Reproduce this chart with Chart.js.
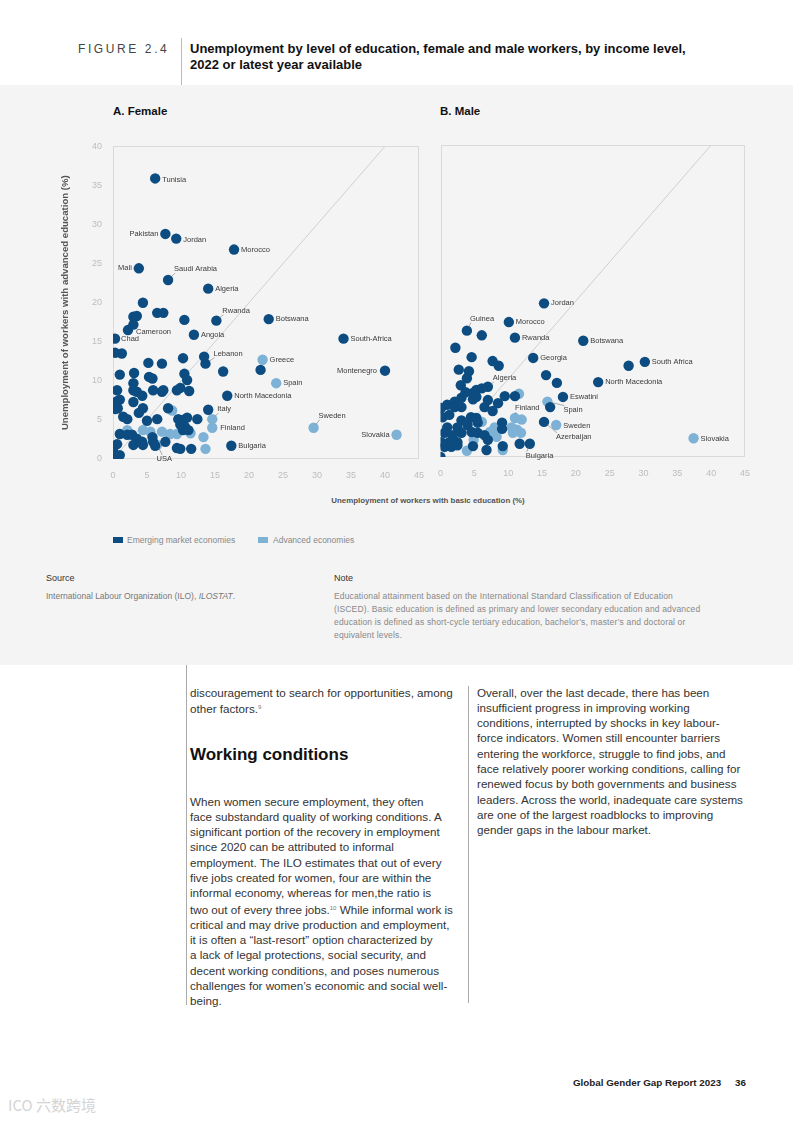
<!DOCTYPE html>
<html>
<head>
<meta charset="utf-8">
<title>Figure 2.4</title>
<script src="https://cdn.jsdelivr.net/npm/chart.js@4.4.1/dist/chart.umd.min.js"></script>
<style>
  body { margin: 0; width: 793px; height: 1122px; position: relative; overflow: hidden;
         background: #fff; font-family: 'Liberation Sans', Arial, sans-serif; color: #333; }
  .abs { position: absolute; white-space: nowrap; }
  #panel { position: absolute; left: 0; top: 85px; width: 793px; height: 580px; background: #f4f4f4; }
  .rule { position: absolute; width: 1px; background: #aaa; }
  .swatch { position: absolute; width: 10px; height: 6px; }
  .body-text { font-size: 11.65px; line-height: 15.3px; color: #333; }
  sup { font-size: 6px; vertical-align: 4px; color: #777; }
</style>
</head>
<body>

<div class="abs" style="left:78px; top:41px; font-size:12px; line-height:16px; letter-spacing:2.6px; color:#444;">FIGURE 2.4</div>
<div class="rule" style="left:181px; top:38px; height:47px; background:#bbb;"></div>
<div class="abs" style="left:190px; top:41px; font-size:13px; line-height:16px; font-weight:bold; color:#111;">Unemployment by level of education, female and male workers, by income level,<br>2022 or latest year available</div>

<div id="panel"></div>

<div class="abs" style="left:113px; top:103px; font-size:11.5px; line-height:16px; font-weight:bold; color:#111;">A. Female</div>
<div class="abs" style="left:440px; top:103px; font-size:11.5px; line-height:16px; font-weight:bold; color:#111;">B. Male</div>

<div class="abs" style="left:40px; top:130px; width:395px; height:355px;"><canvas id="femaleChart" width="395" height="355"></canvas></div>
<div class="abs" style="left:427px; top:130px; width:334px; height:355px;"><canvas id="maleChart" width="334" height="355"></canvas></div>

<div class="abs" style="left:228px; top:496px; width:400px; text-align:center; font-size:7.9px; line-height:10px; font-weight:bold; color:#555;">Unemployment of workers with basic education (%)</div>

<!-- legend -->
<div class="swatch" style="left:113px; top:537px; background:#0c4c80;"></div>
<div class="abs" style="left:127px; top:535px; font-size:8.5px; line-height:10px; color:#888;">Emerging market economies</div>
<div class="swatch" style="left:258px; top:537px; background:#7db2d6;"></div>
<div class="abs" style="left:273px; top:535px; font-size:8.5px; line-height:10px; color:#888;">Advanced economies</div>

<!-- source and note -->
<div class="abs" style="left:46px; top:572px; font-size:9px; line-height:12px; color:#333;">Source</div>
<div class="abs" style="left:46px; top:590px; font-size:8.5px; line-height:12px; color:#777;">International Labour Organization (ILO), <i>ILOSTAT</i>.</div>
<div class="abs" style="left:334px; top:572px; font-size:9px; line-height:12px; color:#333;">Note</div>
<div class="abs" style="left:334px; top:589.5px; font-size:8.5px; line-height:13.3px; letter-spacing:0.15px; color:#888;">Educational attainment based on the International Standard Classification of Education<br>(ISCED). Basic education is defined as primary and lower secondary education and advanced<br>education is defined as short-cycle tertiary education, bachelor’s, master’s and doctoral or<br>equivalent levels.</div>

<!-- body text -->
<div class="rule" style="left:186px; top:665px; height:340px;"></div>
<div class="rule" style="left:468px; top:686px; height:317px;"></div>

<div class="abs body-text" style="left:190px; top:684.5px;">discouragement to search for opportunities, among<br>other factors.<sup>9</sup></div>
<div class="abs" style="left:190px; top:744px; font-size:17px; line-height:22px; font-weight:bold; color:#111;">Working conditions</div>
<div class="abs body-text" style="left:190px; top:793.5px;">When women secure employment, they often<br>face substandard quality of working conditions. A<br>significant portion of the recovery in employment<br>since 2020 can be attributed to informal<br>employment. The ILO estimates that out of every<br>five jobs created for women, four are within the<br>informal economy, whereas for men,the ratio is<br>two out of every three jobs.<sup>10</sup> While informal work is<br>critical and may drive production and employment,<br>it is often a “last-resort” option characterized by<br>a lack of legal protections, social security, and<br>decent working conditions, and poses numerous<br>challenges for women’s economic and social well-<br>being.</div>
<div class="abs body-text" style="left:477px; top:684.5px;">Overall, over the last decade, there has been<br>insufficient progress in improving working<br>conditions, interrupted by shocks in key labour-<br>force indicators. Women still encounter barriers<br>entering the workforce, struggle to find jobs, and<br>face relatively poorer working conditions, calling for<br>renewed focus by both governments and business<br>leaders. Across the world, inadequate care systems<br>are one of the largest roadblocks to improving<br>gender gaps in the labour market.</div>

<!-- footer -->
<div class="abs" style="left:573px; top:1077px; font-size:9.8px; line-height:12px; font-weight:bold; color:#222;">Global Gender Gap Report 2023</div>
<div class="abs" style="left:735px; top:1077px; font-size:9.8px; line-height:12px; font-weight:bold; color:#222;">36</div>
<div class="abs" style="left:8px; top:1095px; font-family:'Noto Sans CJK SC'; font-size:15px; line-height:20px; color:#d4d4d4;">ICO 六数跨境</div>

<script>
// Axis ticks
const xTickValues = [0, 5, 10, 15, 20, 25, 30, 35, 40, 45];
const yTickValues = [0, 5, 10, 15, 20, 25, 30, 35, 40];
const parityLine = [0, 40];  // y = x reference line

// A. Female - emerging market economies
const femaleEmergingX = [6.2, 7.7, 9.3, 17.8, 3.8, 8.1, 14.0, 15.2, 22.9, 2.2, 0.3, 11.9, 13.6, 16.8, 33.9, 40.0, 17.4, 21.7,
  4.4, 6.5, 7.4, 3.0, 3.5, 3.0, 10.5, 0.3, 1.3, 5.2, 7.2, 10.3, 13.4, 16.2, 1.0, 3.1, 5.3, 5.8, 10.5, 10.9, 3.0, 0.6,
  3.0, 3.5, 4.3, 5.9, 7.2, 7.4, 9.4, 9.9, 11.2, 0.6, 1.0, 0.3, 0.7, 3.0, 4.4, 3.8, 8.1, 14.0, 1.5, 2.1, 5.0, 6.5, 9.6,
  10.3, 10.9, 12.4, 9.9, 10.6, 11.1, 10.3, 1.0, 2.1, 2.8, 3.5, 4.3, 5.8, 5.9, 6.2, 7.7, 9.4, 9.9, 11.5, 0.6, 0.0, 0.0,
  1.0, 3.0, 4.4];
const femaleEmergingY = [35.9, 28.8, 28.2, 26.8, 24.4, 22.9, 21.8, 17.7, 17.9, 16.5, 15.4, 15.9, 12.2, 8.1, 15.4, 11.3, 1.7, 11.4,
  20.0, 18.7, 18.7, 18.2, 18.3, 17.2, 17.8, 13.6, 13.5, 12.3, 12.2, 12.9, 13.1, 11.2, 10.8, 11.0, 10.5, 10.3, 10.9, 10.1, 9.7, 8.8,
  8.8, 8.6, 8.1, 8.8, 8.6, 8.8, 8.8, 9.1, 8.7, 7.4, 7.6, 6.4, 6.5, 7.3, 6.5, 5.9, 6.5, 6.3, 5.4, 5.1, 4.9, 5.1, 5.1,
  5.0, 5.3, 5.1, 4.4, 4.1, 3.7, 3.7, 3.2, 3.1, 3.1, 2.6, 2.2, 2.8, 2.2, 1.7, 2.2, 1.4, 1.3, 1.3, 1.9, 1.2, 0.5,
  0.5, 1.8, 1.8];
const femaleEmergingNames = ['Tunisia', 'Pakistan', 'Jordan', 'Morocco', 'Mali', 'Saudi Arabia', 'Algeria', 'Rwanda', 'Botswana',
  'Cameroon', 'Chad', 'Angola', 'Lebanon', 'North Macedonia', 'South-Africa', 'Montenegro', 'Bulgaria'];

// A. Female - advanced economies
const femaleAdvancedX = [22.0, 24.0, 14.6, 14.6, 29.5, 41.7, 6.5, 8.7, 4.4, 5.5, 7.2, 8.4, 9.4, 11.4, 13.3, 13.6, 2.1];
const femaleAdvancedY = [12.7, 9.7, 5.1, 4.0, 4.0, 3.1, 1.8, 6.2, 3.7, 3.5, 3.5, 3.2, 3.2, 3.3, 2.8, 1.3, 3.7];
const femaleAdvancedNames = ['Greece', 'Spain', 'Italy', 'Finland', 'Sweden', 'Slovakia', 'USA'];

// B. Male - emerging market economies
const maleEmergingX = [15.3, 3.9, 10.1, 11.0, 21.1, 13.7, 30.2, 23.3, 7.0, 18.1, 15.3, 13.2,
  6.1, 2.2, 4.6, 7.7, 8.6, 27.8, 2.7, 4.2, 3.9, 15.6, 17.2, 3.0, 6.1, 5.3, 4.8, 9.5, 11.0, 16.2, 11.7, 9.2, 6.8, 4.8,
  0.0, 5.3, 4.8, 7.0, 8.5, 6.5, 7.7, 0.1, 1.0, 2.1, 3.1, 2.1, 3.1, 0.3, 1.3, 3.1, 4.5, 5.3, 5.5, 4.0, 2.5, 1.0, 0.6,
  1.8, 3.1, 4.6, 5.5, 6.5, 7.0, 0.1, 1.3, 2.5, 0.6, 1.6, 2.5, 9.1, 9.1, 3.7];
const maleEmergingY = [19.7, 16.2, 17.3, 15.3, 14.9, 12.7, 12.2, 9.6, 9.0, 7.7, 4.5, 1.7,
  15.6, 14.0, 12.8, 12.3, 11.7, 11.7, 11.2, 11.0, 10.1, 10.5, 9.5, 9.2, 8.8, 8.6, 8.2, 7.8, 7.8, 6.4, 1.7, 1.4, 0.9, 1.4,
  0.0, 7.7, 7.4, 7.3, 6.9, 6.4, 5.9, 6.3, 6.7, 7.1, 7.6, 6.4, 6.4, 5.1, 5.4, 4.7, 5.1, 5.0, 4.4, 4.1, 3.8, 3.8, 3.1,
  2.8, 3.1, 3.2, 3.1, 2.8, 2.2, 1.9, 1.9, 1.9, 1.3, 1.3, 1.5, 4.4, 3.6, 8.3];
const maleEmergingNames = ['Jordan', 'Guinea', 'Morocco', 'Rwanda', 'Botswana', 'Georgia', 'South Africa', 'North Macedonia',
  'Algeria', 'Eswatini', 'Azerbaijan', 'Bulgaria'];

// B. Male - advanced economies
const maleAdvancedX = [15.8, 11.0, 17.1, 37.4, 11.6, 12.0, 10.5, 11.3, 11.9, 10.7, 8.0, 7.3, 8.3, 6.1, 9.2, 3.9, 4.9];
const maleAdvancedY = [7.1, 5.0, 4.1, 2.4, 8.1, 4.8, 3.8, 3.5, 3.1, 3.1, 3.8, 3.2, 2.6, 4.5, 0.9, 0.8, 2.2];
const maleAdvancedNames = ['Spain', 'Finland', 'Sweden', 'Slovakia'];

// Where each country label sits relative to its dot: [dx, dy, align, leader line]
const femaleLabelPlacement = {
    'Tunisia': [7, 1, 'left'], 'Pakistan': [-7, 0, 'right'], 'Jordan': [7, 1, 'left'],
    'Morocco': [7, 0, 'left'], 'Mali': [-7, 0, 'right'], 'Saudi Arabia': [6, -11, 'left', true],
    'Algeria': [7, 0, 'left'], 'Rwanda': [6, -10, 'left', true], 'Botswana': [7, 0, 'left'],
    'Cameroon': [8, 2, 'left'], 'Chad': [6, 0, 'left'], 'Angola': [7, 0, 'left'],
    'Lebanon': [8, -10, 'left', true], 'Greece': [7, 0, 'left'], 'Spain': [7, 0, 'left'],
    'North Macedonia': [7, 0, 'left'], 'South-Africa': [7, 0, 'left'], 'Montenegro': [-8, 0, 'right'],
    'Italy': [5, -10, 'left', true], 'Finland': [8, 0, 'left'], 'Sweden': [5, -12, 'left', true],
    'Slovakia': [-7, 0, 'right'], 'Bulgaria': [7, 0, 'left'], 'USA': [7, 14, 'center', true]
};
const maleLabelPlacement = {
    'Jordan': [7, 0, 'left'], 'Guinea': [3, -12, 'left', true], 'Morocco': [7, 0, 'left'],
    'Rwanda': [7, 0, 'left'], 'Botswana': [7, 0, 'left'], 'Georgia': [7, 0, 'left'],
    'South Africa': [7, 0, 'left'], 'North Macedonia': [7, 0, 'left'], 'Algeria': [5, -9, 'left', true],
    'Eswatini': [7, 0, 'left'], 'Finland': [0, -10, 'left', true], 'Spain': [16, 8, 'left', true],
    'Sweden': [7, 1, 'left'], 'Azerbaijan': [12, 15, 'left', true], 'Slovakia': [7, 1, 'left'],
    'Bulgaria': [-4, 12, 'left', true]
};

const DARK = '#0c4c80';
const LIGHT = '#7db2d6';

Chart.defaults.font.family = "'Liberation Sans', Arial, sans-serif";
Chart.defaults.animation = false;

// Light frame round the plot area
const framePlugin = {
    id: 'plotFrame',
    beforeDatasetsDraw(chart) {
        const a = chart.chartArea;
        const ctx = chart.ctx;
        ctx.save();
        ctx.strokeStyle = '#dadada';
        ctx.lineWidth = 1;
        ctx.strokeRect(Math.round(a.left) + 0.5, Math.round(a.top) + 0.5,
            Math.round(a.right - a.left) - 1, Math.round(a.bottom - a.top) - 1);
        ctx.restore();
    }
};

// Country names next to their dots
const labelPlugin = {
    id: 'countryLabels',
    afterDatasetsDraw(chart, args, opts) {
        const ctx = chart.ctx;
        ctx.save();
        ctx.font = "7.5px 'Liberation Sans', Arial, sans-serif";
        ctx.fillStyle = '#3a3a3a';
        ctx.textBaseline = 'middle';
        chart.data.datasets.forEach((ds, i) => {
            if (!ds.names) return;
            const meta = chart.getDatasetMeta(i);
            ds.names.forEach((name, j) => {
                const pt = meta.data[j];
                const p = opts.placement[name] || [7, 0, 'left'];
                const tx = pt.x + p[0];
                const ty = pt.y + p[1];
                if (p[3]) {
                    // short leader line from dot edge to the label
                    const ey = p[1] < 0 ? ty + 4 : ty - 4;
                    const ex = p[2] === 'center' ? tx - 2 : tx + 1;
                    const ang = Math.atan2(ey - pt.y, ex - pt.x);
                    ctx.strokeStyle = '#777';
                    ctx.lineWidth = 0.6;
                    ctx.beginPath();
                    ctx.moveTo(pt.x + Math.cos(ang) * 4, pt.y + Math.sin(ang) * 4);
                    ctx.lineTo(ex, ey);
                    ctx.stroke();
                }
                ctx.textAlign = p[2];
                ctx.fillText(name, tx, ty);
            });
        });
        ctx.restore();
    }
};

function toPoints(xs, ys) {
    return xs.map((x, i) => ({ x: x, y: ys[i] }));
}

function makeChart(id, emX, emY, emNames, adX, adY, adNames, placement, isFemale) {
    const ctx = document.getElementById(id).getContext('2d');
    return new Chart(ctx, {
        type: 'scatter',
        data: {
            datasets: [
                {
                    label: 'Emerging market economies',
                    data: toPoints(emX, emY),
                    names: emNames,
                    backgroundColor: DARK,
                    borderWidth: 0,
                    pointRadius: 5.2,
                    pointHoverRadius: 5.2,
                    order: 1
                },
                {
                    label: 'Advanced economies',
                    data: toPoints(adX, adY),
                    names: adNames,
                    backgroundColor: LIGHT,
                    borderWidth: 0,
                    pointRadius: 5.2,
                    pointHoverRadius: 5.2,
                    order: 2
                },
                {
                    type: 'line',
                    label: 'parity',
                    data: toPoints(parityLine, parityLine),
                    borderColor: '#cfcfcf',
                    borderWidth: 1,
                    pointRadius: 0,
                    order: 3
                }
            ]
        },
        options: {
            responsive: false,
            layout: { padding: isFemale ? { left: 20, top: 12, right: 12, bottom: 0 } : { left: 11, top: 15, right: 15, bottom: 0 } },
            plugins: {
                legend: { display: false },
                tooltip: { enabled: false },
                countryLabels: { placement: placement }
            },
            scales: {
                x: {
                    type: 'linear',
                    min: 0,
                    max: 45,
                    afterBuildTicks: s => { s.ticks = xTickValues.map(v => ({ value: v })); },
                    grid: { display: false, drawTicks: false },
                    border: { display: false },
                    ticks: { color: '#bdbdbd', font: { size: 9 }, padding: 11, maxRotation: 0, autoSkip: false },
                    afterFit: s => { s.height = isFemale ? 26 : 28; }
                },
                y: {
                    type: 'linear',
                    min: 0,
                    max: 40,
                    display: isFemale,
                    afterBuildTicks: s => { s.ticks = yTickValues.map(v => ({ value: v })); },
                    grid: { display: false, drawTicks: false },
                    border: { display: false },
                    ticks: { color: '#bdbdbd', font: { size: 9 }, padding: 11 },
                    title: {
                        display: true,
                        text: 'Unemployment of workers with advanced education (%)',
                        color: '#555',
                        font: { size: 9.6, weight: 'bold' },
                        padding: 0
                    },
                    afterFit: s => { s.width = isFemale ? 53 : 0; }
                }
            }
        },
        plugins: [framePlugin, labelPlugin]
    });
}

makeChart('femaleChart', femaleEmergingX, femaleEmergingY, femaleEmergingNames,
    femaleAdvancedX, femaleAdvancedY, femaleAdvancedNames, femaleLabelPlacement, true);
makeChart('maleChart', maleEmergingX, maleEmergingY, maleEmergingNames,
    maleAdvancedX, maleAdvancedY, maleAdvancedNames, maleLabelPlacement, false);
</script>
</body>
</html>
